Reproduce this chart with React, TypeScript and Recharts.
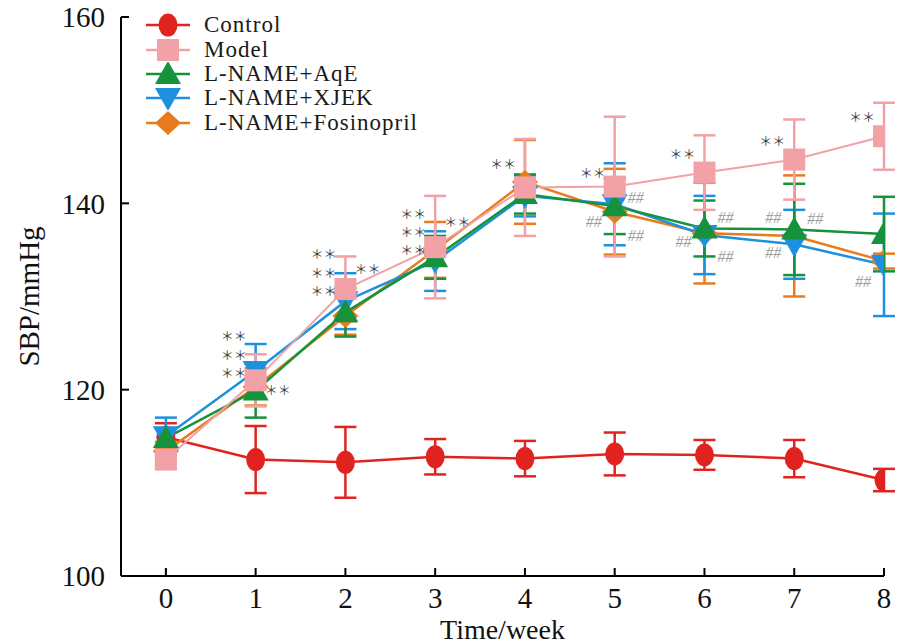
import React from 'react';
import { ComposedChart, Line, XAxis, YAxis, ErrorBar, Scatter, Legend } from 'recharts';

const weeks = [0, 1, 2, 3, 4, 5, 6, 7, 8];
const yTicks = [100, 120, 140, 160];

const control = [114.9, 112.5, 112.2, 112.8, 112.6, 113.1, 113.0, 112.6, 110.3];
const controlErr = [1.5, 3.6, 3.8, 1.9, 1.9, 2.3, 1.6, 2.0, 1.2];
const model = [112.5, 121.0, 130.8, 135.3, 141.7, 141.8, 143.3, 144.7, 147.2];
const modelErr = [1.0, 2.8, 3.5, 5.5, 5.2, 7.5, 4.0, 4.3, 3.6];
const aqe = [114.8, 119.9, 128.3, 134.2, 141.0, 139.7, 137.3, 137.2, 136.7];
const aqeErr = [1.0, 2.9, 2.6, 2.3, 2.1, 3.0, 3.0, 4.9, 4.0];
const xjek = [115.0, 122.0, 129.5, 133.8, 140.8, 139.9, 136.6, 135.6, 133.4];
const xjekErr = [2.0, 2.9, 3.0, 3.2, 2.2, 4.4, 4.2, 3.7, 5.5];
const fos = [113.4, 120.3, 127.9, 135.0, 142.3, 139.1, 136.8, 136.5, 133.8];
const fosErr = [1.0, 2.0, 2.0, 3.0, 4.5, 4.6, 5.4, 6.5, 0.8];

// significance marks vs control (**) and vs model (##); side: -1 left of point, 1 right
const starMarks = [
  { week: 1, value: 125.8, side: -1 },
  { week: 1, value: 123.8, side: -1 },
  { week: 1, value: 121.8, side: -1 },
  { week: 1, value: 120.0, side: 1 },
  { week: 2, value: 134.6, side: -1 },
  { week: 2, value: 132.6, side: -1 },
  { week: 2, value: 130.6, side: -1 },
  { week: 2, value: 133.0, side: 1 },
  { week: 3, value: 138.9, side: -1 },
  { week: 3, value: 137.0, side: -1 },
  { week: 3, value: 135.0, side: -1 },
  { week: 3, value: 138.1, side: 1 },
  { week: 4, value: 144.3, side: -1 },
  { week: 5, value: 143.3, side: -1 },
  { week: 6, value: 145.4, side: -1 },
  { week: 7, value: 146.7, side: -1 },
  { week: 8, value: 149.3, side: -1 },
];
const hashMarks = [
  { week: 5, value: 140.6, side: 1 },
  { week: 5, value: 138.0, side: -1 },
  { week: 5, value: 136.6, side: 1 },
  { week: 6, value: 135.9, side: -1 },
  { week: 6, value: 138.5, side: 1 },
  { week: 6, value: 134.3, side: 1 },
  { week: 7, value: 138.5, side: -1 },
  { week: 7, value: 138.4, side: 1 },
  { week: 7, value: 134.7, side: -1 },
  { week: 8, value: 136.9, side: 1 },
  { week: 8, value: 133.7, side: 1 },
  { week: 8, value: 131.6, side: -1 },
];

const serif = '"Liberation Serif", "Times New Roman", serif';
const colors = {
  control: '#e0231e',
  model: '#f2a1a7',
  aqe: '#16923c',
  xjek: '#1d90de',
  fos: '#e87c1c',
};

const rows = weeks.map((w, i) => ({
  week: w,
  control: control[i],
  controlErr: controlErr[i],
  model: model[i],
  modelErr: modelErr[i],
  aqe: aqe[i],
  aqeErr: aqeErr[i],
  xjek: xjek[i],
  xjekErr: xjekErr[i],
  fos: fos[i],
  fosErr: fosErr[i],
}));

type Shape = 'circle' | 'square' | 'up' | 'down' | 'diamond';

const Marker = ({ shape, cx, cy, color }: { shape: Shape; cx: number; cy: number; color: string }) => {
  if (cx == null || cy == null) return null;
  switch (shape) {
    case 'circle':
      return <ellipse cx={cx} cy={cy} rx={9.5} ry={11.5} fill={color} />;
    case 'square':
      return <rect x={cx - 11} y={cy - 11} width={22} height={22} fill={color} />;
    case 'up':
      return <polygon points={`${cx},${cy - 13} ${cx + 13},${cy + 10} ${cx - 13},${cy + 10}`} fill={color} />;
    case 'down':
      return <polygon points={`${cx},${cy + 13} ${cx + 13},${cy - 10} ${cx - 13},${cy - 10}`} fill={color} />;
    default:
      return <polygon points={`${cx},${cy - 12} ${cx + 13},${cy} ${cx},${cy + 12} ${cx - 13},${cy}`} fill={color} />;
  }
};

const series = [
  { key: 'control', name: 'Control', color: colors.control, shape: 'circle' as Shape, width: 2.5 },
  { key: 'fos', name: 'L-NAME+Fosinopril', color: colors.fos, shape: 'diamond' as Shape, width: 2.5 },
  { key: 'xjek', name: 'L-NAME+XJEK', color: colors.xjek, shape: 'down' as Shape, width: 2.5 },
  { key: 'aqe', name: 'L-NAME+AqE', color: colors.aqe, shape: 'up' as Shape, width: 2.5 },
  { key: 'model', name: 'Model', color: colors.model, shape: 'square' as Shape, width: 2 },
];
const legendOrder = ['control', 'model', 'aqe', 'xjek', 'fos'];

const renderLegend = () => (
  <div style={{ fontFamily: serif, fontSize: 23, color: '#1a1a1a', letterSpacing: 1 }}>
    {legendOrder.map((k) => {
      const s = series.find((x) => x.key === k)!;
      return (
        <div key={k} style={{ display: 'flex', alignItems: 'center', height: 24.4 }}>
          <svg width={46} height={24}>
            <line x1={1} y1={12} x2={45} y2={12} stroke={s.color} strokeWidth={2.5} />
            <Marker shape={s.shape} cx={23} cy={12} color={s.color} />
          </svg>
          <span style={{ marginLeft: 13, lineHeight: '24px' }}>{s.name}</span>
        </div>
      );
    })}
  </div>
);

const markText = (text: string, gap: number, style: React.SVGProps<SVGTextElement>) => (props: any) => {
  const { cx, cy, payload } = props;
  const side = payload.side;
  return (
    <text
      x={cx + side * gap}
      y={cy}
      textAnchor={side < 0 ? 'end' : 'start'}
      dominantBaseline="central"
      {...style}
    >
      {text}
    </text>
  );
};

export default function App() {
  return (
    <div style={{ position: 'absolute', left: 0, top: 0, background: '#fff' }}>
      <ComposedChart width={917} height={644} data={rows} margin={{ top: 17, right: 33, bottom: 0, left: 0 }}>
        <XAxis
          type="number"
          dataKey="week"
          domain={[-0.5, 8]}
          ticks={weeks}
          allowDataOverflow
          height={68}
          stroke="#000"
          strokeWidth={2}
          tickSize={-8}
          tickMargin={19}
          tick={{ fill: '#111', fontSize: 29, fontFamily: serif }}
          label={{ value: 'Time/week', position: 'insideBottom', offset: 5, style: { fill: '#111', fontSize: 28, fontFamily: serif } }}
        />
        <YAxis
          type="number"
          domain={[100, 160]}
          ticks={yTicks}
          width={121}
          stroke="#000"
          strokeWidth={2}
          tickSize={-8}
          tickMargin={24}
          tick={{ fill: '#111', fontSize: 29, fontFamily: serif }}
          label={{ value: 'SBP/mmHg', angle: -90, position: 'insideLeft', offset: 29, style: { textAnchor: 'middle', fill: '#111', fontSize: 29, fontFamily: serif } }}
        />
        <Legend
          layout="vertical"
          align="center"
          verticalAlign="middle"
          wrapperStyle={{ left: 145, top: 13, width: 'auto', height: 'auto' }}
          content={renderLegend}
        />
        {series.map((s) => (
          <Line
            key={s.key}
            type="linear"
            dataKey={s.key}
            name={s.name}
            stroke={s.color}
            strokeWidth={s.width}
            isAnimationActive={false}
            dot={(p: any) => <Marker key={`${s.key}-${p.index}`} shape={s.shape} cx={p.cx} cy={p.cy} color={s.color} />}
            activeDot={false}
          >
            <ErrorBar dataKey={`${s.key}Err`} width={11} stroke={s.color} strokeWidth={2.5} direction="y" />
          </Line>
        ))}
        <Scatter
          data={starMarks}
          dataKey="value"
          isAnimationActive={false}
          shape={markText('＊＊', 9, { fontSize: 13, fill: '#444', fontFamily: '"Noto Sans CJK SC", sans-serif' })}
        />
        <Scatter
          data={hashMarks}
          dataKey="value"
          isAnimationActive={false}
          shape={markText('##', 13, { fontSize: 16, fill: '#9a9a9a', fontFamily: serif, fontStyle: 'italic' })}
        />
      </ComposedChart>
    </div>
  );
}
